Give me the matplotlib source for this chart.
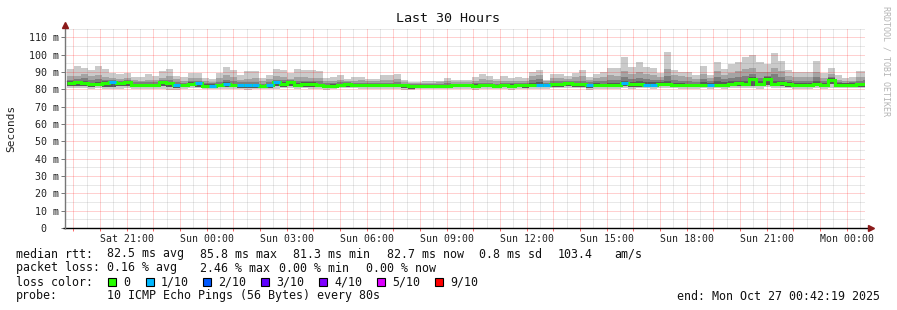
import numpy as np
import matplotlib
matplotlib.use("Agg")
import matplotlib.pyplot as plt

# ---- data (30 h window, 16 min bins, values in ms) ----
rtt_max = [91.9, 93.5, 92.3, 91.2, 93.5, 91.5, 89.2, 88.5, 89.6, 87.0,
           87.0, 88.8, 87.7, 90.6, 91.7, 87.7, 87.0, 89.6, 89.2, 86.3,
           85.8, 89.6, 92.9, 91.0, 88.3, 90.6, 90.6, 86.7, 88.3, 91.7,
           91.2, 89.6, 91.7, 90.8, 90.8, 90.4, 86.7, 87.0, 88.3, 86.0,
           87.1, 87.1, 86.0, 85.8, 88.3, 88.3, 88.8, 85.2, 84.4, 84.4,
           84.8, 85.0, 85.0, 86.5, 85.6, 85.6, 85.2, 87.1, 88.8, 87.9,
           85.8, 87.7, 86.3, 87.1, 86.7, 90.2, 91.2, 85.6, 88.8, 88.5,
           87.9, 89.6, 91.2, 87.1, 88.8, 90.0, 92.0, 92.0, 98.7, 92.9,
           95.8, 92.9, 92.1, 89.2, 101.5, 91.2, 90.2, 90.2, 88.3, 93.5,
           88.3, 95.8, 91.9, 94.4, 95.8, 98.7, 99.6, 95.8, 94.4, 100.8,
           96.3, 91.2, 90.0, 90.0, 90.0, 96.3, 89.2, 92.1, 88.3, 86.7,
           87.1, 90.6, 90.6]
rtt_p9 = [87.5, 87.8, 88.5, 87.5, 88.0, 87.3, 86.7, 86.0, 86.5, 85.2,
          85.0, 85.5, 85.3, 86.7, 87.8, 85.8, 85.0, 86.5, 86.2, 84.7,
          84.2, 86.3, 88.0, 86.8, 85.5, 86.0, 86.5, 84.8, 85.8, 87.5,
          87.0, 86.0, 87.3, 86.8, 86.5, 86.5, 84.8, 85.0, 85.5, 84.6,
          85.0, 85.2, 84.6, 84.5, 85.5, 85.3, 85.8, 84.0, 83.5, 83.6,
          83.8, 83.8, 83.9, 84.6, 84.2, 84.3, 84.0, 85.0, 85.8, 85.5,
          84.5, 85.0, 84.8, 85.0, 84.9, 87.5, 88.3, 84.6, 86.2, 86.3,
          86.0, 86.8, 87.5, 85.3, 86.5, 87.0, 88.0, 87.8, 90.5, 88.5,
          90.0, 88.7, 88.0, 87.0, 91.5, 88.0, 87.5, 87.2, 86.0, 89.0,
          86.3, 90.5, 88.3, 89.5, 90.5, 91.5, 92.0, 90.0, 90.0, 92.5,
          90.5, 87.8, 87.0, 86.8, 87.0, 90.0, 86.5, 88.5, 85.6, 84.8,
          85.0, 87.0, 87.2]
rtt_p8 = [85.5, 86.0, 86.3, 85.3, 85.8, 85.6, 85.6, 85.0, 85.5, 84.0,
          84.0, 84.2, 84.0, 85.6, 85.6, 84.3, 83.8, 85.0, 85.0, 83.6,
          83.4, 84.2, 85.5, 84.8, 84.0, 84.3, 84.4, 83.2, 84.0, 85.6,
          85.3, 85.5, 84.8, 85.0, 85.0, 84.5, 83.4, 83.6, 84.0, 84.0,
          83.8, 83.8, 83.6, 83.5, 83.8, 83.7, 84.0, 83.2, 82.8, 83.0,
          83.0, 83.1, 83.1, 83.4, 83.3, 83.3, 83.2, 83.5, 83.8, 83.8,
          83.3, 83.6, 83.4, 83.6, 83.6, 85.5, 86.0, 83.6, 84.6, 84.8,
          84.8, 84.6, 85.0, 84.0, 84.6, 85.0, 85.5, 85.3, 87.0, 86.0,
          86.5, 85.8, 85.5, 85.3, 87.5, 85.3, 85.0, 84.8, 84.2, 86.0,
          84.5, 87.0, 85.8, 86.5, 87.3, 87.5, 88.5, 86.5, 87.5, 88.5,
          87.0, 85.3, 84.8, 84.6, 84.8, 86.8, 84.5, 86.8, 84.2, 83.8,
          83.9, 85.0, 85.2]
rtt_p7 = [84.6, 85.0, 84.6, 83.8, 84.3, 84.5, 85.0, 84.3, 84.8, 83.3,
          83.3, 83.3, 83.1, 85.0, 84.4, 83.3, 83.0, 84.0, 84.2, 82.8,
          82.8, 83.2, 84.0, 83.3, 83.0, 83.1, 83.1, 82.5, 83.0, 85.0,
          84.2, 84.7, 83.4, 83.9, 83.9, 83.3, 82.5, 82.8, 83.3, 83.5,
          83.3, 83.1, 83.0, 83.1, 83.0, 82.9, 83.0, 83.0, 82.4, 82.6,
          82.6, 82.7, 82.7, 82.7, 82.9, 82.8, 82.8, 82.8, 83.0, 83.1,
          82.7, 82.9, 82.8, 82.9, 83.0, 83.8, 84.2, 82.9, 83.6, 83.8,
          84.2, 83.5, 83.8, 83.1, 83.4, 83.3, 83.6, 83.5, 85.0, 84.4,
          84.6, 84.0, 84.0, 84.3, 85.0, 83.6, 83.6, 83.2, 83.2, 84.2,
          83.6, 84.5, 84.0, 84.6, 85.0, 85.0, 86.8, 84.7, 86.8, 85.0,
          85.0, 84.0, 83.6, 83.6, 83.6, 84.6, 83.6, 86.2, 83.5, 83.4,
          83.4, 83.7, 83.8]
rtt_median = [83.6, 84.0, 83.5, 82.8, 83.2, 83.5, 84.3, 83.5, 84.0, 82.5,
              82.5, 82.5, 82.3, 84.3, 83.5, 82.5, 82.3, 83.3, 83.5, 82.0,
              82.0, 82.5, 83.0, 82.5, 82.3, 82.3, 82.3, 81.7, 82.3, 84.2,
              83.2, 84.0, 82.5, 83.0, 83.0, 82.5, 81.7, 82.0, 82.6, 82.9,
              82.6, 82.5, 82.4, 82.4, 82.4, 82.2, 82.3, 82.4, 81.8, 82.0,
              82.0, 82.1, 82.1, 82.0, 82.3, 82.2, 82.2, 82.1, 82.3, 82.4,
              82.0, 82.2, 82.1, 82.2, 82.3, 82.6, 82.4, 82.2, 82.8, 83.0,
              83.5, 82.8, 82.9, 82.4, 82.6, 82.4, 82.6, 82.6, 83.5, 82.9,
              82.9, 82.7, 82.7, 83.3, 83.3, 82.7, 82.7, 82.3, 82.3, 82.7,
              82.7, 82.7, 82.7, 83.3, 83.5, 83.3, 85.8, 83.3, 85.8, 83.3,
              83.7, 82.9, 82.7, 82.7, 82.7, 83.3, 82.7, 85.3, 82.7, 82.7,
              82.7, 82.9, 82.9]
rtt_low = [81.8, 82.0, 81.8, 81.3, 81.6, 81.2, 81.5, 81.6, 81.8, 81.0,
           81.0, 81.2, 81.0, 81.6, 81.2, 80.8, 81.0, 81.6, 81.5, 80.8,
           80.8, 81.2, 81.3, 81.0, 80.9, 80.8, 80.9, 80.6, 80.9, 81.6,
           81.5, 81.8, 81.2, 81.5, 81.4, 81.2, 80.7, 80.9, 81.4, 81.5,
           81.4, 81.3, 81.0, 81.1, 81.2, 81.0, 81.2, 80.9, 80.2, 80.7,
           80.9, 81.0, 81.0, 80.9, 81.2, 81.1, 81.0, 80.8, 81.1, 81.2,
           81.0, 81.1, 81.0, 81.1, 80.8, 81.0, 81.0, 81.0, 81.4, 81.5,
           81.8, 81.5, 81.5, 80.9, 81.3, 81.2, 81.3, 81.2, 81.8, 81.4,
           81.5, 81.5, 81.3, 81.6, 81.8, 81.4, 81.3, 81.0, 81.0, 81.3,
           81.0, 81.4, 81.3, 81.7, 81.8, 81.6, 82.0, 81.6, 82.4, 81.7,
           81.8, 81.5, 81.3, 81.3, 81.3, 81.6, 81.3, 82.8, 81.5, 81.3,
           81.3, 81.5, 81.5]
rtt_min = [80.6, 80.8, 80.6, 80.3, 80.5, 80.0, 79.9, 80.2, 80.6, 80.2,
           80.3, 80.4, 80.2, 80.4, 79.8, 79.8, 80.2, 80.6, 80.5, 80.0,
           80.1, 80.3, 80.4, 80.2, 80.0, 79.8, 79.9, 80.0, 80.2, 80.4,
           80.6, 80.7, 80.3, 80.5, 80.4, 80.0, 79.8, 80.1, 80.5, 80.6,
           80.5, 80.3, 80.2, 80.2, 80.4, 80.2, 80.3, 79.6, 79.4, 80.0,
           80.1, 80.3, 80.2, 80.1, 80.4, 80.2, 80.2, 79.8, 80.3, 80.4,
           80.2, 80.3, 79.8, 80.3, 80.0, 80.2, 80.0, 80.2, 80.6, 80.7,
           80.8, 80.6, 80.5, 79.8, 80.4, 80.3, 80.4, 80.1, 80.7, 80.2,
           80.6, 80.5, 80.2, 80.7, 80.8, 80.5, 80.3, 80.2, 79.9, 80.5,
           80.2, 80.6, 80.4, 80.8, 80.9, 80.7, 80.8, 80.3, 81.0, 80.8,
           80.9, 80.7, 80.4, 80.4, 80.4, 80.7, 80.4, 80.5, 80.7, 80.5,
           80.5, 80.6, 80.6]
# lost pings out of 10 per bin
loss = [0] * 113
for i in [6, 15, 18, 20, 22, 24, 25, 26, 28, 29, 66, 67, 73, 78, 81, 82, 90]:
    loss[i] = 1

y_ticks = [0, 10, 20, 30, 40, 50, 60, 70, 80, 90, 100, 110]
x_labels = ["Sat 21:00", "Sun 00:00", "Sun 03:00", "Sun 06:00", "Sun 09:00",
            "Sun 12:00", "Sun 15:00", "Sun 18:00", "Sun 21:00", "Mon 00:00"]

loss_names = ["0", "1/10", "2/10", "3/10", "4/10", "5/10", "9/10"]
loss_colors = ["#26ff00", "#00b8ff", "#0059ff", "#5e00ff", "#7e00ff", "#dd00ff", "#ff0000"]

# ---- layout ----
W, H = 897, 310
MONO = "DejaVu Sans Mono"
plt.rcParams["font.family"] = MONO

fig = plt.figure(figsize=(W / 100, H / 100), dpi=100)
fig.patch.set_facecolor("white")
ax = fig.add_axes([65.4 / W, (H - 228) / H, 800 / W, 200 / H])
ax.set_xlim(0, 30)
ax.set_ylim(0, 115.3)
for s in ax.spines.values():
    s.set_visible(False)

# time axis in hours since start (Sat 18:42:19); first full hour at 19:00
h0 = 17.68 / 60
bin_h = 16 / 60
edges = 0.049 + np.arange(len(rtt_max) + 1) * bin_h
edges = np.clip(edges, 0, 30)

# smoke
ax.stairs(rtt_max, edges, baseline=rtt_min, fill=True, color="#cacaca", zorder=1)
ax.stairs(rtt_p9, edges, baseline=rtt_low, fill=True, color="#a4a4a4", zorder=1.1)
ax.stairs(rtt_p8, edges, baseline=rtt_low, fill=True, color="#7e7e7e", zorder=1.2)
ax.stairs(rtt_p7, edges, baseline=rtt_low, fill=True, color="#585858", zorder=1.3)

# grid
red = (1, 0, 0, 0.37)
gray = (0.5, 0.5, 0.5, 0.35)
dot = (0, (1, 1))
for v in np.arange(5, 116, 10):
    ax.axhline(v, color=gray, lw=0.72, ls=dot, zorder=2)
for v in y_ticks[1:]:
    ax.axhline(v, color=red, lw=0.72, ls=dot, zorder=2)
hours = h0 + np.arange(0, 30)
for v in hours + 0.5:
    if v < 30:
        ax.axvline(v, color=gray, lw=0.72, ls=dot, zorder=2)
for v in hours:
    ax.axvline(v, color=red, lw=0.72, ls=dot, zorder=2)

# median line coloured by loss
ax.stairs(rtt_median, edges, baseline=None, color=loss_colors[0], lw=2.2, zorder=3)
mid = np.array(rtt_median)
lo = np.array(loss)
idx = np.where(lo > 0)[0]
ax.hlines(mid[idx], edges[idx], edges[idx + 1], colors=[loss_colors[min(l, 6)] for l in lo[idx]],
          lw=2.2, zorder=3.1, capstyle="butt")

# axes lines with arrows
ax.plot([-0.08, 30.15], [0, 0], color="black", lw=1.0, clip_on=False, zorder=4,
        solid_capstyle="butt")
ax.plot([30.2], [0], marker=">", color="#8b1a1a", ms=4, clip_on=False, zorder=4)
ax.plot([0, 0], [-0.8, 116.2], color="#777777", lw=1.0, clip_on=False, zorder=4,
        solid_capstyle="butt")
ax.plot([0], [117.3], marker="^", color="#8b1a1a", ms=4, clip_on=False, zorder=4)

# ticks / labels
ax.set_yticks(y_ticks)
ax.set_yticklabels(["0  "] + ["%d m" % v for v in y_ticks[1:]])
ax.tick_params(axis="y", length=3, width=0.7, color="#777777", pad=1.5,
               labelsize=7.2, labelcolor="#222222")
ax.set_xticks(h0 + 2 + 3 * np.arange(len(x_labels)))
ax.set_xticklabels(x_labels)
ax.set_xticks(hours, minor=True)
ax.tick_params(axis="x", which="both", length=2.5, width=0.7, color=(1, 0, 0, 0.6),
               pad=2, labelsize=7.1, labelcolor="#222222")

ax.set_ylabel("Seconds", fontsize=8, color="#222222")
ax.yaxis.set_label_coords(-49.4 / 800, 0.5)

def px(x, y):
    return x / W, 1 - y / H

fig.text(*px(448, 19), "Last 30 Hours", ha="center", va="center", fontsize=9.6,
         color="#111111")
fig.text(*px(886, 6), "RRDTOOL / TOBI OETIKER", rotation=270, ha="center", va="top",
         fontsize=6, color="#b4b4b4")

# legend
fs = 8.35
tc = "#111111"
row1 = [(16, "median rtt:"), (107, "82.5 ms avg"), (200, "85.8 ms max"),
        (293, "81.3 ms min"), (387, "82.7 ms now"), (479, "0.8 ms sd"),
        (558, "103.4"), (614, "am/s")]
for x, s in row1:
    fig.text(*px(x, 254), s, ha="left", va="center", fontsize=fs, color=tc)
row2 = [(16, "packet loss:"), (107, "0.16 % avg"), (200, "2.46 % max"),
        (279, "0.00 % min"), (366, "0.00 % now")]
for x, s in row2:
    fig.text(*px(x, 268), s, ha="left", va="center", fontsize=fs, color=tc)
fig.text(*px(16, 282), "loss color:", ha="left", va="center", fontsize=fs, color=tc)
box_x = [108, 145.7, 203, 261, 319, 377, 435]
for bx, name, col in zip(box_x, loss_names, loss_colors):
    fig.patches.append(plt.Rectangle(px(bx, 286), 8 / W, 8 / H, transform=fig.transFigure,
                                     facecolor=col, edgecolor="black", lw=0.8))
    fig.text(*px(bx + 15, 282), name, ha="left", va="center", fontsize=fs, color=tc)
fig.text(*px(16, 296), "probe:", ha="left", va="center", fontsize=fs, color=tc)
fig.text(*px(107, 296), "10 ICMP Echo Pings (56 Bytes) every 80s", ha="left", va="center",
         fontsize=fs, color=tc)
fig.text(*px(880, 296), "end: Mon Oct 27 00:42:19 2025", ha="right", va="center",
         fontsize=fs, color=tc)

fig.savefig("out.png", dpi=100)
